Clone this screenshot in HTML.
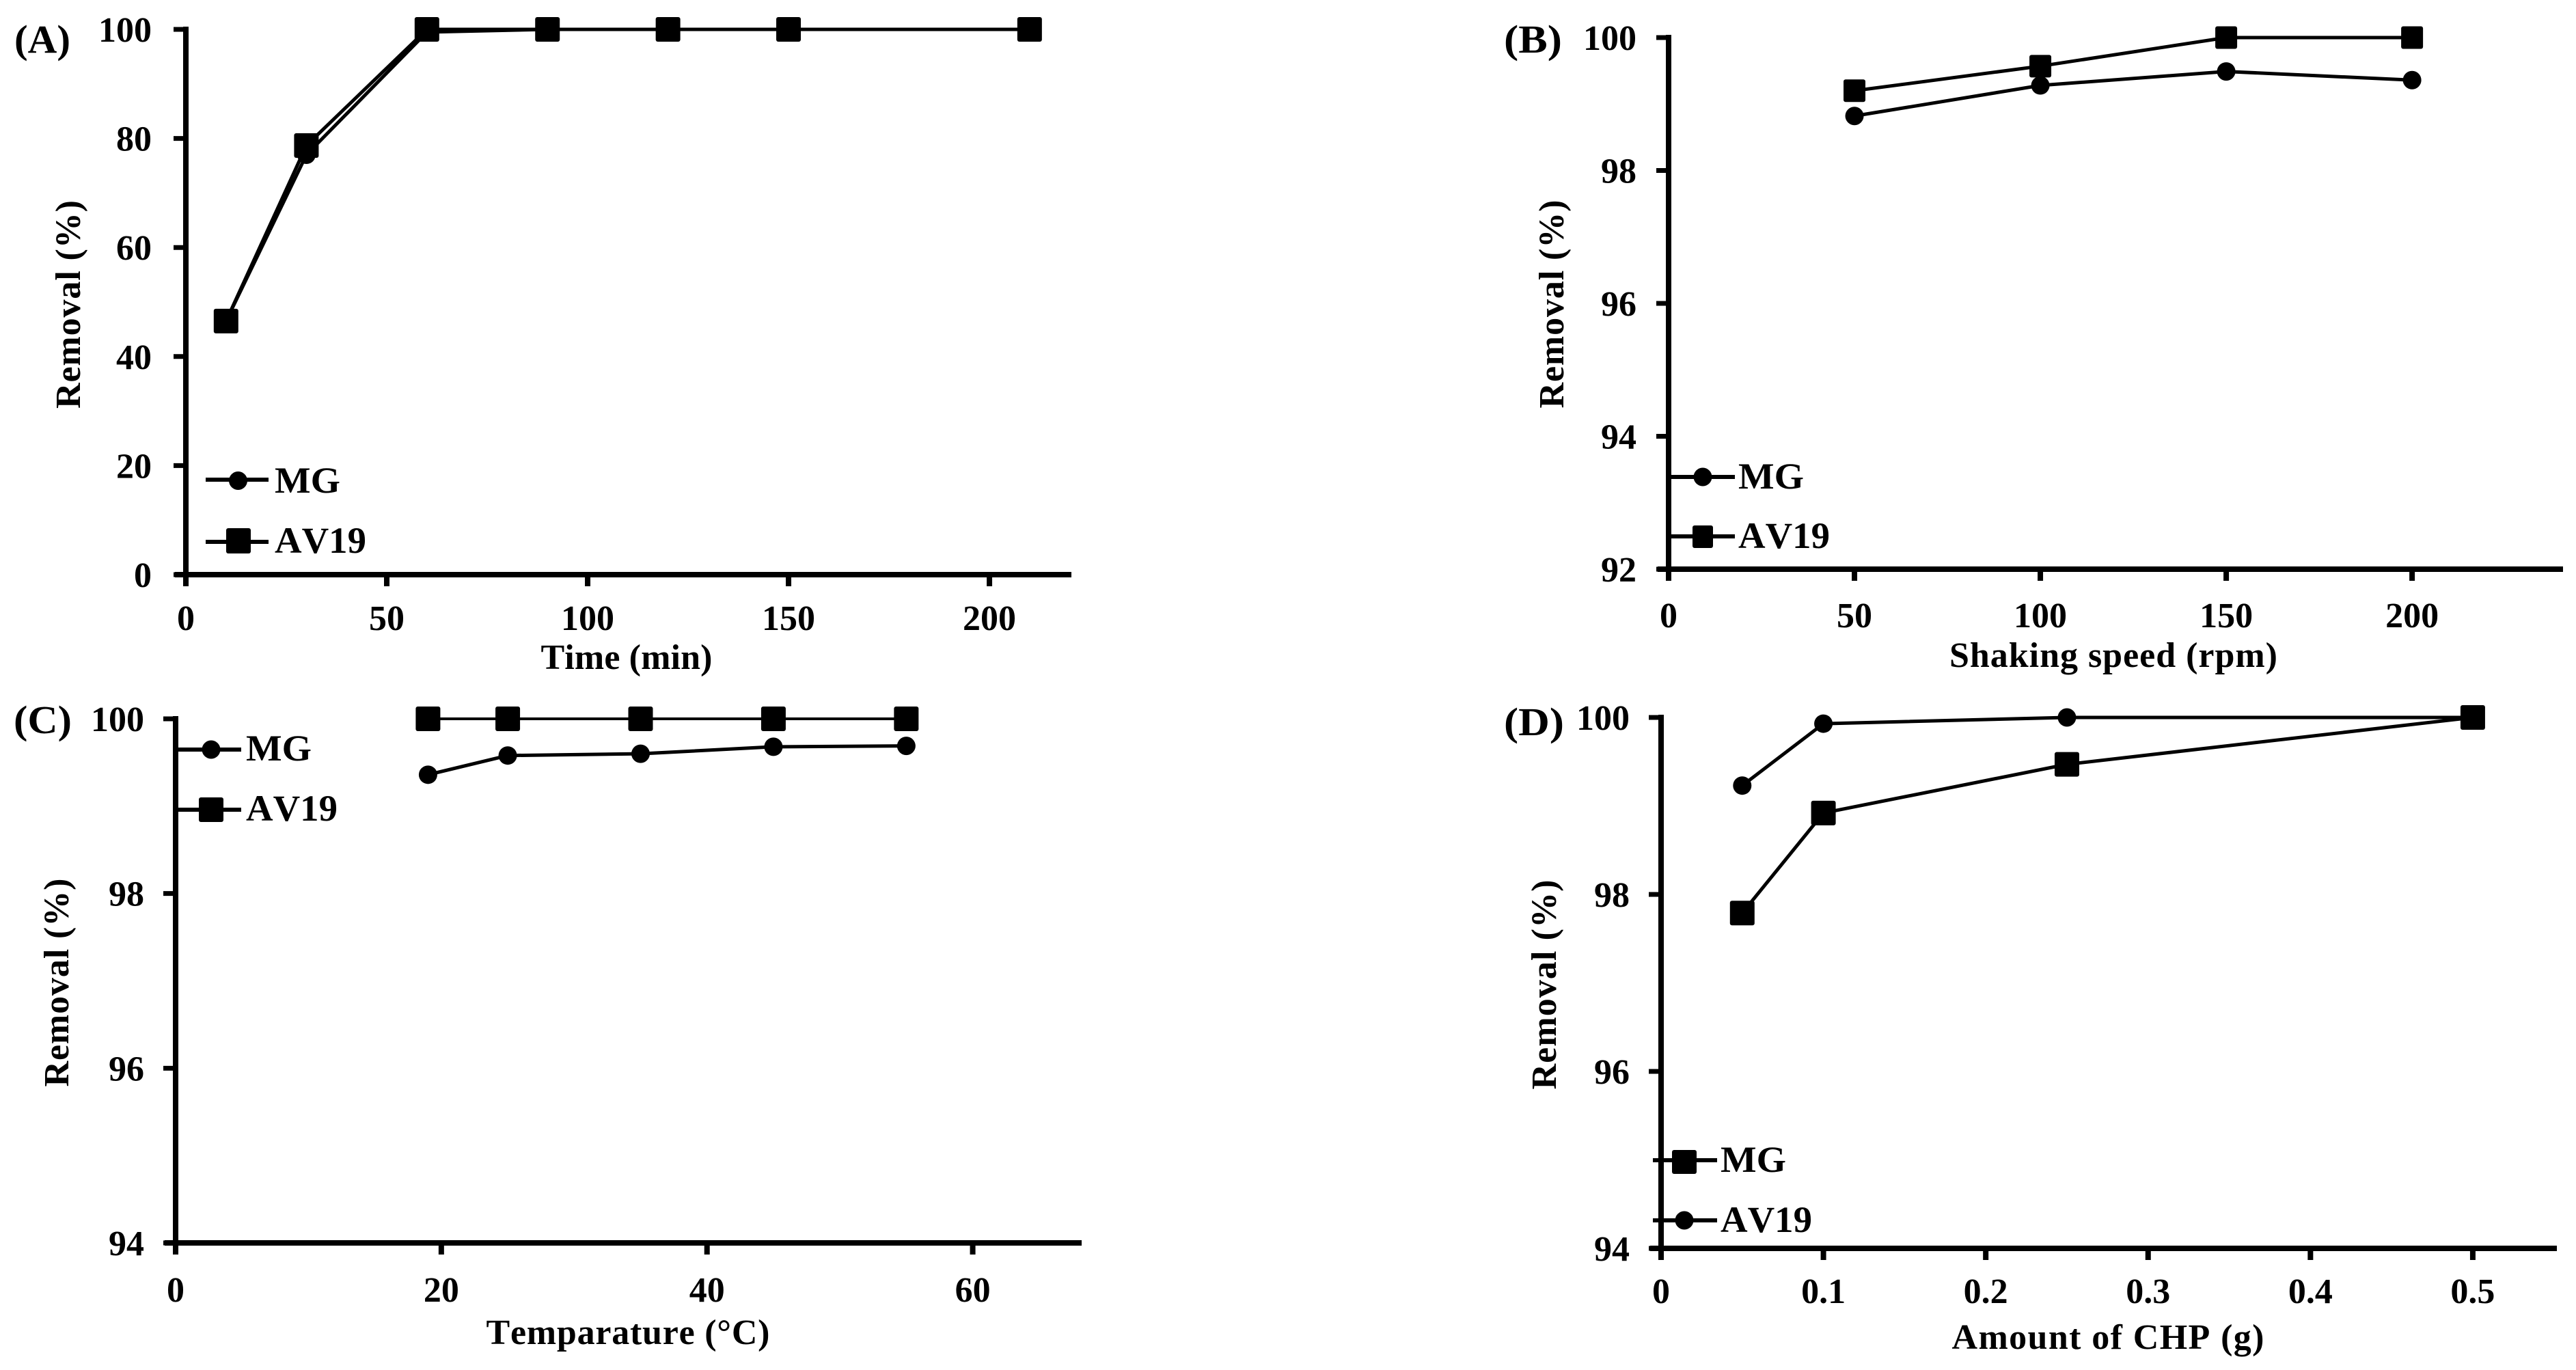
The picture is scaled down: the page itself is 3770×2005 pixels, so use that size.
<!DOCTYPE html>
<html lang="en">
<head>
<meta charset="utf-8">
<title>Removal of MG and AV19</title>
<style>
html,body{margin:0;padding:0;background:#fff;}
svg{display:block;}
text{font-family:"Liberation Serif",serif;font-weight:bold;fill:#000;font-kerning:none;}
</style>
</head>
<body>
<svg id="figure" xmlns="http://www.w3.org/2000/svg" width="3770" height="2005" viewBox="0 0 3770 2005">
  <rect width="3770" height="2005" fill="#fff"/>

  <g id="panel-a">
    <text x="21" y="77" font-size="58" textLength="82" lengthAdjust="spacingAndGlyphs">(A)</text>
    <text transform="translate(117 445.5) rotate(-90)" text-anchor="middle" font-size="52" textLength="305">Removal (%)</text>
    <text x="917" y="979" text-anchor="middle" font-size="52" textLength="251">Time (min)</text>
    <g>
      <line x1="301" x2="393" y1="702" y2="702" stroke="#000" stroke-width="6"/>
      <circle cx="348.5" cy="703.5" r="13.5"/>
      <text x="402" y="721" font-size="54" textLength="96" lengthAdjust="spacingAndGlyphs">MG</text>
      <line x1="301" x2="393" y1="793" y2="793" stroke="#000" stroke-width="6"/>
      <rect x="331" y="773" width="36" height="37" rx="3"/>
      <text x="402" y="809" font-size="54" textLength="134" lengthAdjust="spacingAndGlyphs">AV19</text>
    </g>
  </g>

  <g id="panel-b">
    <text x="2201" y="77" font-size="58" textLength="85" lengthAdjust="spacingAndGlyphs">(B)</text>
    <text transform="translate(2288 445) rotate(-90)" text-anchor="middle" font-size="52" textLength="305">Removal (%)</text>
    <text x="3093" y="976" text-anchor="middle" font-size="52" textLength="480">Shaking speed (rpm)</text>
    <g>
      <line x1="2444" x2="2539" y1="698" y2="698" stroke="#000" stroke-width="6"/>
      <circle cx="2492" cy="698" r="13.5"/>
      <text x="2544" y="715" font-size="54" textLength="96" lengthAdjust="spacingAndGlyphs">MG</text>
      <line x1="2444" x2="2539" y1="785" y2="785" stroke="#000" stroke-width="6"/>
      <rect x="2477" y="769" width="30" height="33" rx="3"/>
      <text x="2544" y="802" font-size="54" textLength="134" lengthAdjust="spacingAndGlyphs">AV19</text>
    </g>
  </g>

  <g id="panel-c">
    <text x="20" y="1073" font-size="58" textLength="85" lengthAdjust="spacingAndGlyphs">(C)</text>
    <text transform="translate(100 1438) rotate(-90)" text-anchor="middle" font-size="52" textLength="305">Removal (%)</text>
    <text x="919" y="1967" text-anchor="middle" font-size="52" textLength="415">Temparature (°C)</text>
    <g>
      <line x1="259" x2="353" y1="1097" y2="1097" stroke="#000" stroke-width="6"/>
      <circle cx="309" cy="1097" r="13.5"/>
      <text x="360" y="1113" font-size="54" textLength="96" lengthAdjust="spacingAndGlyphs">MG</text>
      <line x1="259" x2="353" y1="1185" y2="1185" stroke="#000" stroke-width="6"/>
      <rect x="291" y="1167" width="36" height="36" rx="3"/>
      <text x="360" y="1201" font-size="54" textLength="134" lengthAdjust="spacingAndGlyphs">AV19</text>
    </g>
  </g>

  <g id="panel-d">
    <text x="2201" y="1076" font-size="58" textLength="88" lengthAdjust="spacingAndGlyphs">(D)</text>
    <text transform="translate(2277 1441) rotate(-90)" text-anchor="middle" font-size="52" textLength="307">Removal (%)</text>
    <text x="3085" y="1974" text-anchor="middle" font-size="52" textLength="457">Amount of CHP (g)</text>
    <g>
      <line x1="2419" x2="2513" y1="1698" y2="1698" stroke="#000" stroke-width="6"/>
      <rect x="2447" y="1683" width="36" height="35" rx="3"/>
      <text x="2518" y="1715" font-size="54" textLength="96" lengthAdjust="spacingAndGlyphs">MG</text>
      <line x1="2419" x2="2513" y1="1786" y2="1786" stroke="#000" stroke-width="6"/>
      <circle cx="2465" cy="1786" r="13.5"/>
      <text x="2518" y="1803" font-size="54" textLength="134" lengthAdjust="spacingAndGlyphs">AV19</text>
    </g>
  </g>
</svg>

<script>
// Panel A: contact time
const aTimes = [10, 30, 60, 90, 120, 150, 210];
const aMG = [46.5, 77, 99.5, 100, 100, 100, 100];
const aAV19 = [46.5, 78.7, 100, 100, 100, 100, 100];
const aXTicks = [0, 50, 100, 150, 200];
const aYTicks = [0, 20, 40, 60, 80, 100];

// Panel B: shaking speed
const bSpeeds = [50, 100, 150, 200];
const bMG = [98.82, 99.28, 99.49, 99.36];
const bAV19 = [99.2, 99.57, 100, 100];
const bXTicks = [0, 50, 100, 150, 200];
const bYTicks = [92, 94, 96, 98, 100];

// Panel C: temperature
const cTemps = [19, 25, 35, 45, 55];
const cMG = [99.36, 99.58, 99.6, 99.68, 99.69];
const cAV19 = [100, 100, 100, 100, 100];
const cXTicks = [0, 20, 40, 60];
const cYTicks = [94, 96, 98, 100];

// Panel D: amount of CHP
const dAmounts = [0.05, 0.1, 0.25, 0.5];
const dCircleSeries = [99.23, 99.93, 100, 100];
const dSquareSeries = [97.79, 98.92, 99.47, 100];
const dXTicks = [0, 0.1, 0.2, 0.3, 0.4, 0.5];
const dYTicks = [94, 96, 98, 100];

const SVG_NS = 'http://www.w3.org/2000/svg';

function make(tag, parent, attrs) {
  const el = document.createElementNS(SVG_NS, tag);
  for (const k in attrs) el.setAttribute(k, attrs[k]);
  parent.appendChild(el);
  return el;
}

function drawAxes(group, frame, xTicks, yTicks, sx, sy) {
  const xAxis = make('line', group, {x1: frame.x0 - 16, x2: frame.xEnd, y1: frame.y0, y2: frame.y0, stroke: '#000', 'stroke-width': 8});
  
  
  const yAxis = make('line', group, {x1: frame.x0, x2: frame.x0, y1: frame.yTop - 4, y2: frame.y0 + 17, stroke: '#000', 'stroke-width': 8});
  
  

  xTicks.forEach(function (v) {
    const tick = make('line', group, {x1: sx(v), x2: sx(v), y1: frame.y0, y2: frame.y0 + 17, stroke: '#000', 'stroke-width': 8});
    
    
    const label = make('text', group, {x: sx(v), y: frame.y0 + frame.xLabelDy, 'text-anchor': 'middle', 'font-size': 52});
    
    
    label.textContent = String(v);
  });

  yTicks.forEach(function (v) {
    const tick = make('line', group, {x1: frame.x0 - 18, x2: frame.x0, y1: sy(v), y2: sy(v), stroke: '#000', 'stroke-width': 7});
    
    
    const label = make('text', group, {x: frame.x0 - frame.yLabelDx, y: sy(v) + 18, 'text-anchor': 'end', 'font-size': 52});
    
    
    label.textContent = String(v);
  });
}

function drawSeries(group, frame, s, sx, sy) {
  const points = s.xs.map(function (x, i) { return sx(x) + ',' + sy(s.ys[i]); }).join(' ');
  const line = make('polyline', group, {points: points, fill: 'none', stroke: '#000', 'stroke-width': s.width, 'stroke-linejoin': 'round'});
  
  
  s.xs.forEach(function (x, i) {
    let mark;
    if (s.shape === 'square') {
      const w = frame.squareW;
      const h = frame.squareH;
      mark = make('rect', group, {x: sx(x) - w / 2, y: sy(s.ys[i]) - h / 2, width: w, height: h, rx: 3});
    } else {
      mark = make('circle', group, {cx: sx(x), cy: sy(s.ys[i]), r: 13.5});
    }
    
    
  });
}

function drawPanel(id, frame, xTicks, yTicks, series) {
  const group = document.getElementById(id);
  const sx = function (v) { return frame.x0 + (v - frame.xMin) / (frame.xMax - frame.xMin) * (frame.xEnd - frame.x0); };
  const sy = function (v) { return frame.y0 - (v - frame.yMin) / (frame.yMax - frame.yMin) * (frame.y0 - frame.yTop); };
  drawAxes(group, frame, xTicks, yTicks, sx, sy);
  series.forEach(function (s) { drawSeries(group, frame, s, sx, sy); });
}

drawPanel('panel-a',
  {x0: 272, xEnd: 1568, y0: 841, yTop: 43, xMin: 0, xMax: 220.4, yMin: 0, yMax: 100, xLabelDy: 81, yLabelDx: 50, squareW: 36, squareH: 36},
  aXTicks, aYTicks,
  [{name: 'mg', xs: aTimes, ys: aMG, shape: 'circle', width: 5},
   {name: 'av19', xs: aTimes, ys: aAV19, shape: 'square', width: 5}]);

drawPanel('panel-b',
  {x0: 2442, xEnd: 3751, y0: 833, yTop: 55, xMin: 0, xMax: 240.6, yMin: 92, yMax: 100, xLabelDy: 85, yLabelDx: 47, squareW: 32, squareH: 33},
  bXTicks, bYTicks,
  [{name: 'mg', xs: bSpeeds, ys: bMG, shape: 'circle', width: 5},
   {name: 'av19', xs: bSpeeds, ys: bAV19, shape: 'square', width: 5}]);

drawPanel('panel-c',
  {x0: 257, xEnd: 1583, y0: 1819, yTop: 1052, xMin: 0, xMax: 68.2, yMin: 94, yMax: 100, xLabelDy: 86, yLabelDx: 46, squareW: 36, squareH: 36},
  cXTicks, cYTicks,
  [{name: 'mg', xs: cTemps, ys: cMG, shape: 'circle', width: 5},
   {name: 'av19', xs: cTemps, ys: cAV19, shape: 'square', width: 4}]);

drawPanel('panel-d',
  {x0: 2431, xEnd: 3742, y0: 1827, yTop: 1050, xMin: 0, xMax: 0.5518, yMin: 94, yMax: 100, xLabelDy: 80, yLabelDx: 46, squareW: 36, squareH: 36},
  dXTicks, dYTicks,
  [{name: 'av19', xs: dAmounts, ys: dCircleSeries, shape: 'circle', width: 5},
   {name: 'mg', xs: dAmounts, ys: dSquareSeries, shape: 'square', width: 5}]);
</script>
</body>
</html>
